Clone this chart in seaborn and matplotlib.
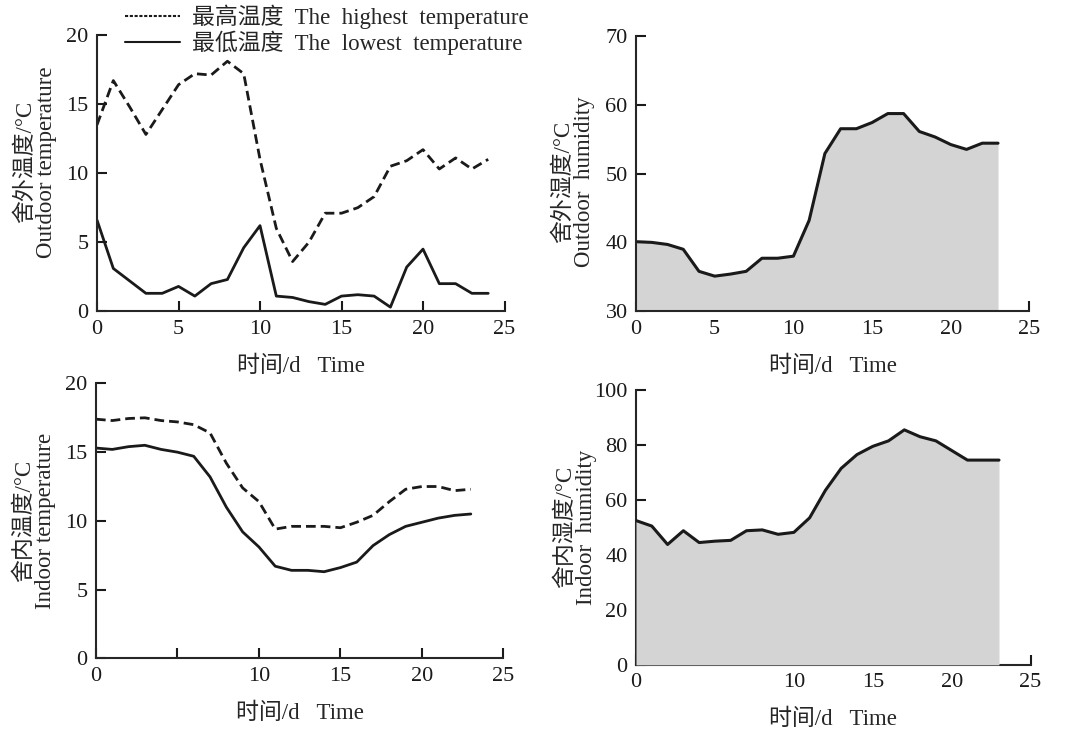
import seaborn as sns
import matplotlib.pyplot as plt
from matplotlib.lines import Line2D
import numpy as np

# 数据 (按天读取)
days_out = list(range(25))
out_high = [13.5, 16.7, 14.8, 12.8, 14.6, 16.4, 17.2, 17.1, 18.1, 17.2, 11.0, 6.0, 3.6,
            5.0, 7.1, 7.1, 7.5, 8.3, 10.5, 10.9, 11.7, 10.3, 11.1, 10.3, 11.0]
out_low = [6.6, 3.1, 2.2, 1.3, 1.3, 1.8, 1.1, 2.0, 2.3, 4.6, 6.2, 1.1, 1.0,
           0.7, 0.5, 1.1, 1.2, 1.1, 0.3, 3.2, 4.5, 2.0, 2.0, 1.3, 1.3]

days = list(range(24))
out_hum = [40.1, 40.0, 39.7, 39.0, 35.8, 35.1, 35.4, 35.8, 37.7, 37.7, 38.0, 43.2,
           52.9, 56.5, 56.5, 57.4, 58.7, 58.7, 56.1, 55.3, 54.2, 53.5, 54.4, 54.4]
in_high = [17.4, 17.3, 17.45, 17.5, 17.3, 17.2, 17.0, 16.4, 14.2, 12.4, 11.4, 9.4,
           9.6, 9.6, 9.6, 9.5, 9.9, 10.4, 11.4, 12.3, 12.5, 12.5, 12.2, 12.3]
in_low = [15.3, 15.2, 15.4, 15.5, 15.2, 15.0, 14.7, 13.2, 11.0, 9.2, 8.1, 6.7,
          6.4, 6.4, 6.3, 6.6, 7.0, 8.2, 9.0, 9.6, 9.9, 10.2, 10.4, 10.5]
in_hum = [52.5, 50.5, 43.8, 48.8, 44.5, 45.0, 45.3, 48.8, 49.1, 47.5, 48.2, 53.5,
          63.5, 71.5, 76.5, 79.5, 81.5, 85.5, 83.0, 81.5, 78.0, 74.5, 74.5, 74.5]

sns.set_theme(style='ticks')
plt.rcParams['font.family'] = ['Liberation Serif', 'Noto Sans CJK SC']
plt.rcParams['axes.linewidth'] = 1.5
plt.rcParams['xtick.direction'] = 'in'
plt.rcParams['ytick.direction'] = 'in'

fig = plt.figure(figsize=(10.78, 7.29), dpi=100)
ax1 = fig.add_axes([0.090, 0.573, 0.378, 0.379])
ax2 = fig.add_axes([0.590, 0.573, 0.365, 0.378])
ax3 = fig.add_axes([0.089, 0.097, 0.378, 0.377])
ax4 = fig.add_axes([0.590, 0.088, 0.366, 0.377])

dash = (0, (3.5, 1.8))
lw = 2.0
fs_tick = 16
fs_lab = 16.5

# 舍外温度
sns.lineplot(x=days_out, y=out_high, ax=ax1, color='k', linewidth=lw, linestyle=dash)
sns.lineplot(x=days_out, y=out_low, ax=ax1, color='k', linewidth=lw)
ax1.set_ylim(0, 20)
ax1.set_yticks([0, 5, 10, 15, 20])
ax1.set_ylabel('舍外温度/°C\nOutdoor temperature', fontsize=fs_lab, linespacing=1.0)

# 舍外湿度
ax2.fill_between(days, out_hum, 30, color='#d4d4d4', lw=0)
sns.lineplot(x=days, y=out_hum, ax=ax2, color='k', linewidth=2.2)
ax2.set_ylim(30, 70)
ax2.set_yticks([30, 40, 50, 60, 70])
ax2.set_ylabel('舍外湿度/°C\nOutdoor  humidity', fontsize=fs_lab, linespacing=1.0)

# 舍内温度
sns.lineplot(x=days, y=in_high, ax=ax3, color='k', linewidth=lw, linestyle=dash)
sns.lineplot(x=days, y=in_low, ax=ax3, color='k', linewidth=lw)
ax3.set_ylim(0, 20)
ax3.set_yticks([0, 5, 10, 15, 20])
ax3.set_ylabel('舍内温度/°C\nIndoor temperature', fontsize=fs_lab, linespacing=1.0)

# 舍内湿度
ax4.fill_between(days, in_hum, 0, color='#d4d4d4', lw=0, zorder=3)
sns.lineplot(x=days, y=in_hum, ax=ax4, color='k', linewidth=2.2, zorder=4)
ax4.set_ylim(0, 100)
ax4.set_yticks([0, 20, 40, 60, 80, 100])
ax4.set_ylabel('舍内湿度/°C\nIndoor  humidity', fontsize=fs_lab, linespacing=1.0)

for ax in [ax1, ax2, ax3, ax4]:
    sns.despine(ax=ax)
    ax.set_xlim(0, 25)
    ax.set_xticks([0, 5, 10, 15, 20, 25])
    ax.tick_params(labelsize=fs_tick, length=7, width=1.5, colors='k', pad=6)
    ax.set_xlabel('时间/d   Time', fontsize=fs_lab, labelpad=12)
    ax.yaxis.set_label_coords(-0.098, 0.5)

ax1.yaxis.set_label_coords(-0.098, 0.54)
ax2.yaxis.set_label_coords(-0.105, 0.47)

for ax in [ax3, ax4]:
    ax.set_xticklabels(['0', '', '10', '15', '20', '25'])

handles = [Line2D([], [], color='k', lw=1.5, linestyle=(0, (1.5, 0.8))),
           Line2D([], [], color='k', lw=1.5)]
fig.legend(handles, ['最高温度  The  highest  temperature', '最低温度  The  lowest  temperature'],
           loc='upper left', bbox_to_anchor=(0.097, 1.022), frameon=False, fontsize=fs_lab,
           handlelength=2.4, handletextpad=0.5, labelspacing=0.05)

plt.savefig('out.png', dpi=100)
